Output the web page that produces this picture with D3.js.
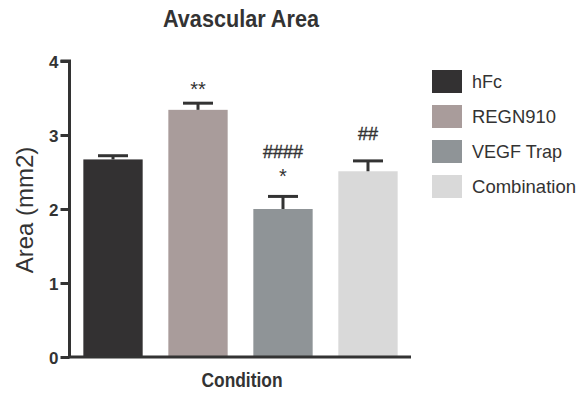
<!DOCTYPE html>
<html><head><meta charset="utf-8">
<script src="https://cdn.jsdelivr.net/npm/d3@7"></script>
<style>html,body{margin:0;padding:0;background:#fff;}svg{display:block;font-family:"Liberation Sans",Arial,sans-serif;}</style>
</head><body>
<svg id="chart" width="580" height="393"></svg>
<script>
const categories = ["hFc", "REGN910", "VEGF Trap", "Combination"];
const means = [2.67, 3.34, 2.00, 2.51];
const errUpper = [2.72, 3.43, 2.17, 2.65];
const colors = ["#333132", "#a99c9b", "#8f9497", "#d9d9d9"];
const sigTop = ["", "**", "####", "##"];
const sigBottom = ["", "", "*", ""];
const yTicks = [0, 1, 2, 3, 4];
const legendWidths = [30, 84, 90, 104];

const svg = d3.select("#chart");
const ink = "#333";

const x = d3.scaleBand().domain(categories).range([70, 411]).paddingInner(0.302).paddingOuter(0.157);
const y = d3.scaleLinear().domain([0, 4]).range([357, 61]);

// bars
svg.selectAll("rect.bar").data(categories).join("rect")
  .attr("class", "bar")
  .attr("x", d => x(d))
  .attr("width", x.bandwidth())
  .attr("y", (d, i) => y(means[i]))
  .attr("height", (d, i) => y(0) - y(means[i]))
  .attr("fill", (d, i) => colors[i]);

// error bars
const eg = svg.append("g").attr("stroke", ink).attr("stroke-width", 3);
categories.forEach((c, i) => {
  const cx = x(c) + x.bandwidth() / 2;
  eg.append("line").attr("x1", cx).attr("x2", cx).attr("y1", y(means[i])).attr("y2", y(errUpper[i]));
  eg.append("line").attr("x1", cx - 15).attr("x2", cx + 15).attr("y1", y(errUpper[i])).attr("y2", y(errUpper[i]));
});

// significance
categories.forEach((c, i) => {
  const cx = x(c) + x.bandwidth() / 2;
  if (sigTop[i]) {
    const isStar = sigTop[i].startsWith("*");
    const extra = sigBottom[i] ? 17 : 0;
    svg.append("text").attr("x", cx).attr("y", (isStar ? y(errUpper[i]) - 7 : y(errUpper[i]) - 21) - extra)
      .attr("text-anchor", "middle").attr("fill", ink)
      .attr("font-size", isStar ? 20 : 18).attr("stroke", ink).attr("stroke-width", isStar ? 0 : 0.4)
      .text(sigTop[i]);
  }
  if (sigBottom[i]) {
    svg.append("text").attr("x", cx).attr("y", y(errUpper[i]) - 13)
      .attr("text-anchor", "middle").attr("fill", ink)
      .attr("font-size", 20).text(sigBottom[i]);
  }
});

// y axis
const yAxis = svg.append("g").attr("transform", "translate(69.5,0)")
  .call(d3.axisLeft(y).tickValues(yTicks).tickFormat(d3.format("d")).tickSize(9).tickPadding(2));
yAxis.select(".domain").attr("stroke", ink).attr("stroke-width", 3).attr("d", `M-9,${y(4)}H0V${y(0)}`);
yAxis.selectAll(".tick line").attr("stroke", ink).attr("stroke-width", 3);
yAxis.selectAll(".tick text").attr("fill", ink).attr("font-size", 17).attr("font-weight", "bold")
  .attr("font-family", "Liberation Sans, Arial, sans-serif").attr("dy", "0.36em");

// x axis line
svg.append("line").attr("x1", 68).attr("x2", 411).attr("y1", y(0)).attr("y2", y(0))
  .attr("stroke", ink).attr("stroke-width", 3);

// title
svg.append("text").attr("x", 241).attr("y", 27).attr("text-anchor", "middle")
  .attr("font-size", 24).attr("font-weight", "bold").attr("fill", ink)
  .attr("textLength", 156).attr("lengthAdjust", "spacingAndGlyphs").text("Avascular Area");

// x label
svg.append("text").attr("x", 242).attr("y", 387).attr("text-anchor", "middle")
  .attr("font-size", 21).attr("font-weight", "bold").attr("fill", ink)
  .attr("textLength", 81).attr("lengthAdjust", "spacingAndGlyphs").text("Condition");

// y label
svg.append("text").attr("transform", "translate(33,210) rotate(-90)").attr("text-anchor", "middle")
  .attr("font-size", 24).attr("fill", ink).text("Area (mm2)");

// legend
const lg = svg.append("g");
categories.forEach((c, i) => {
  const ty = 70 + i * 35;
  lg.append("rect").attr("x", 432).attr("y", ty).attr("width", 30).attr("height", 23).attr("fill", colors[i]);
  lg.append("text").attr("x", 472).attr("y", ty + 18).attr("font-size", 19).attr("fill", ink)
    .attr("textLength", legendWidths[i]).attr("lengthAdjust", "spacingAndGlyphs").text(c);
});
</script>
</body></html>
